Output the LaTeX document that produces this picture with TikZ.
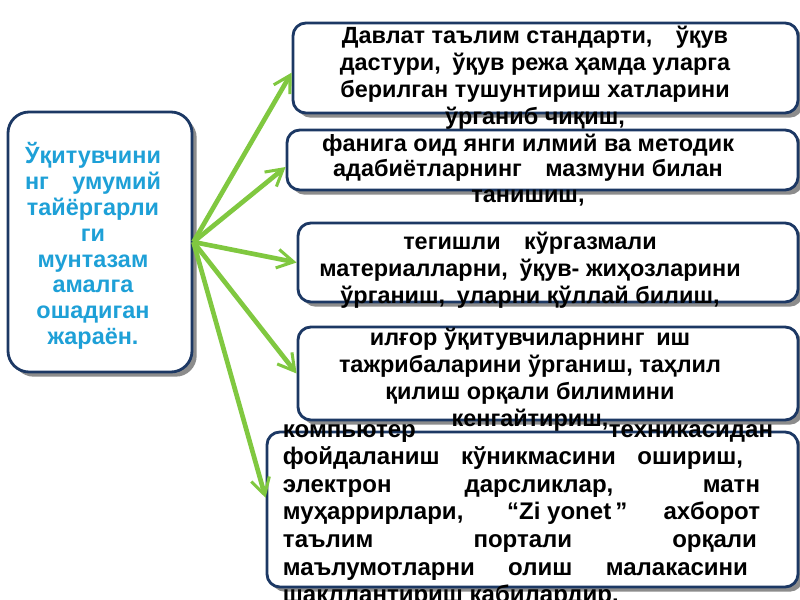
\documentclass[tikz,border=0pt]{standalone}
\usepackage{fontspec}
\setmainfont{Liberation Sans}
\usetikzlibrary{arrows.meta,shadows}
\definecolor{boxblue}{RGB}{28,56,100}
\definecolor{arrowgreen}{RGB}{128,200,64}
\definecolor{titleblue}{RGB}{30,160,215}
\newcommand{\jline}[2]{\makebox[#1][s]{#2}}

\begin{document}
\begin{tikzpicture}[x=0.03cm,y=-0.03cm,
  every node/.style={inner sep=0pt},
  box/.style={rectangle,draw=boxblue,line width=2.4pt,rounded corners=11pt,fill=white,
    drop shadow={shadow xshift=4pt,shadow yshift=-4pt,fill=black!45,opacity=1}},
  boxtext/.style={align=center,font=\fontsize{20}{23}\selectfont\bfseries},
  arrow/.style={draw=arrowgreen,line width=4pt,-{Straight Barb[length=14pt,width=16pt,line width=2.6pt]}}]
\useasboundingbox (0,0) rectangle (800,600);
% Define all the nodes.
% Teacher
\node[box,rounded corners=18pt,minimum width=5.52cm,minimum height=7.8cm] (teacher) at (100,242) {};
% Standards
\node[box,minimum width=15.15cm,minimum height=2.7cm] (standards) at (545.5,68) {};
% Literature
\node[box,minimum width=15.33cm,minimum height=1.8cm] (literature) at (542.5,160) {};
% Materials
\node[box,minimum width=15cm,minimum height=2.37cm] (materials) at (548,262.5) {};
% Experience
\node[box,minimum width=15cm,minimum height=2.79cm] (experience) at (548,373.5) {};
% Computer
\node[box,minimum width=15.93cm,minimum height=4.65cm] (computer) at (532.5,509.5) {};
% Texts
\node[boxtext,text=titleblue,font=\fontsize{20}{22}\selectfont\bfseries] (teacher text) at (93,246) {
Ўқитувчини\\нг\quad умумий\\тайёргарли\\ги\\мунтазам\\амалга\\ошадиган\\жараён.
};
\node[boxtext] (standards text) at (535,78) {
Давлат таълим стандарти,\quad ўқув\\
дастури,\enspace ўқув режа ҳамда уларга\\
берилган тушунтириш хатларини\\
ўрганиб чиқиш,
};
\node[boxtext,font=\fontsize{20}{22}\selectfont\bfseries] (literature text) at (528,170) {
фанига оид янги илмий ва методик\\
адабиётларнинг\quad мазмуни билан\\
танишиш,
};
\node[boxtext] (materials text) at (530,270) {
тегишли\quad кўргазмали\\
материалларни,\enspace ўқув- жиҳозларини\\
ўрганиш,\enspace уларни қўллай билиш,
};
\node[boxtext] (experience text) at (530,380) {
илғор ўқитувчиларнинг\enspace иш\\
тажрибаларини ўрганиш, таҳлил\\
қилиш орқали билимини\\
кенгайтириш,
};
\node[boxtext,align=left,font=\fontsize{20.5}{23.6}\selectfont\bfseries] (computer text) at (528,516) {
\jline{14.7cm}{компьютер техникасидан}\\
\jline{13.8cm}{фойдаланиш кўникмасини ошириш,}\\
\jline{14.31cm}{электрон дарсликлар, матн}\\
\jline{14.31cm}{муҳаррирлари, \mbox{“Zi yonet\,”} ахборот}\\
\jline{14.22cm}{таълим портали орқали}\\
\jline{13.95cm}{маълумотларни олиш малакасини}\\
шакллантириш кабилардир.
};
% Draw the arrows
\draw[arrow] (teacher.east) -- ([yshift=-4pt]standards.west);
\draw[arrow] (teacher.east) -- ([yshift=-6pt]literature.west);
\draw[arrow] (teacher.east) -- (materials.west);
\draw[arrow] (teacher.east) -- (experience.west);
\draw[arrow] (teacher.east) -- ([yshift=10pt]computer.west);
\end{tikzpicture}
\end{document}
